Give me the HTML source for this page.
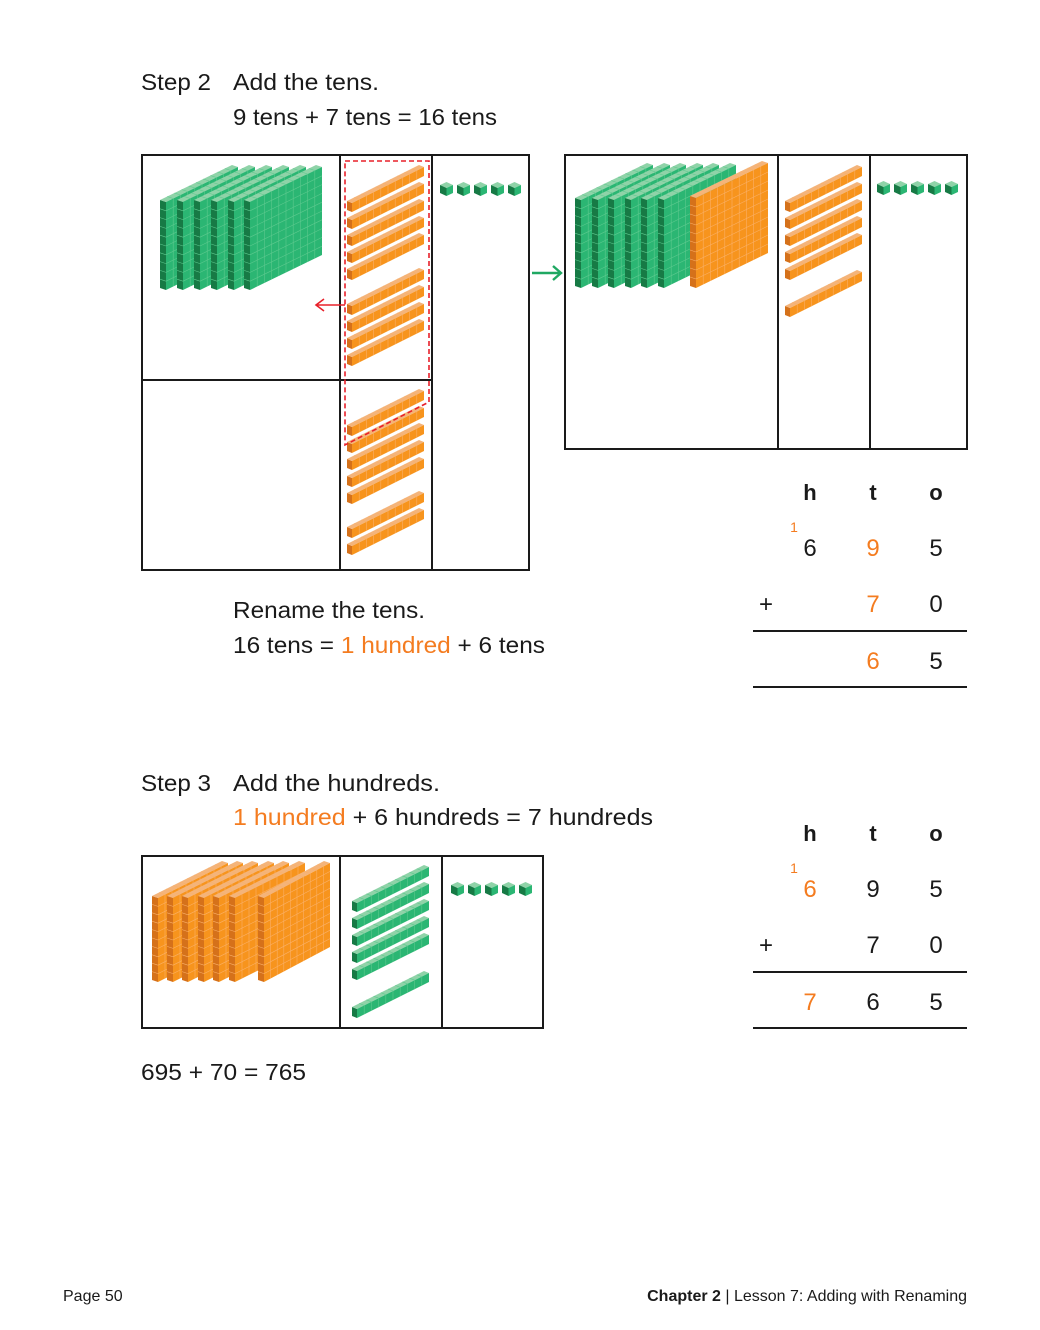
<!DOCTYPE html>
<html><head><meta charset="utf-8"><style>
body{margin:0;background:#fff}
svg{display:block}
text{font-family:"Liberation Sans",sans-serif;fill:#1a1a1a}
.t{font-size:23px}
.o{fill:#f47c20}
.n{font-size:24px;text-anchor:middle}
.h{font-size:22px;font-weight:bold;text-anchor:middle}
</style></head><body>
<svg id="s" width="1040" height="1330" viewBox="0 0 1040 1330" xmlns="http://www.w3.org/2000/svg">
<text class="t" x="141" y="90" textLength="70" lengthAdjust="spacingAndGlyphs">Step 2</text>
<text class="t" x="233" y="90" textLength="146" lengthAdjust="spacingAndGlyphs">Add the tens.</text>
<text class="t" x="233" y="125" textLength="264" lengthAdjust="spacingAndGlyphs">9 tens + 7 tens = 16 tens</text>
<text class="t" x="233" y="618" textLength="192" lengthAdjust="spacingAndGlyphs">Rename the tens.</text>
<text class="t" x="233" y="653" textLength="312" lengthAdjust="spacingAndGlyphs">16 tens = <tspan class="o">1 hundred</tspan> + 6 tens</text>
<text class="t" x="141" y="791" textLength="70" lengthAdjust="spacingAndGlyphs">Step 3</text>
<text class="t" x="233" y="791" textLength="207" lengthAdjust="spacingAndGlyphs">Add the hundreds.</text>
<text class="t" x="233" y="825" textLength="420" lengthAdjust="spacingAndGlyphs"><tspan class="o">1 hundred</tspan> + 6 hundreds = 7 hundreds</text>
<text class="t" x="141" y="1080" textLength="165" lengthAdjust="spacingAndGlyphs">695 + 70 = 765</text>
<text x="63" y="1301" style="font-size:16px">Page 50</text>
<text x="967" y="1301" style="font-size:16px;text-anchor:end"><tspan font-weight="bold">Chapter 2</tspan> | Lesson 7: Adding with Renaming</text>

<g fill="none" stroke="#1a1a1a" stroke-width="2">
<rect x="142" y="155" width="387" height="415"/>
<line x1="340" y1="155" x2="340" y2="570"/><line x1="432" y1="155" x2="432" y2="570"/>
<line x1="142" y1="380" x2="432" y2="380"/>
<rect x="565" y="155" width="402" height="294"/>
<line x1="778" y1="155" x2="778" y2="449"/><line x1="870" y1="155" x2="870" y2="449"/>
<rect x="142" y="856" width="401" height="172"/>
<line x1="340" y1="856" x2="340" y2="1028"/><line x1="442" y1="856" x2="442" y2="1028"/>
<line x1="753" y1="631" x2="967" y2="631" stroke-width="2"/><line x1="753" y1="687" x2="967" y2="687"/>
<line x1="753" y1="972" x2="967" y2="972"/><line x1="753" y1="1028" x2="967" y2="1028"/>
</g>
<g id="blocks"></g>
<g fill="none" stroke-width="1.6">
<path d="M345 161 H429 V402 L345 445 Z" stroke="#e8202a" stroke-dasharray="5,3"/>
<path d="M345 305 H316 M324 299 L316 305 L324 311" stroke="#e8202a"/>
<path d="M532 273 H561 M553 266 L561 273 L553 280" stroke="#1fa862" stroke-width="2.4"/>
</g>

<text class="h" x="810" y="500">h</text><text class="h" x="873" y="500">t</text><text class="h" x="936" y="500">o</text>
<text x="794" y="532" class="o" style="font-size:14px;text-anchor:middle">1</text>
<text class="n" x="810" y="556">6</text><text class="n o" x="873" y="556">9</text><text class="n" x="936" y="556">5</text>
<text class="n" x="766" y="612">+</text><text class="n o" x="873" y="612">7</text><text class="n" x="936" y="612">0</text>
<text class="n o" x="873" y="669">6</text><text class="n" x="936" y="669">5</text>

<text class="h" x="810" y="841">h</text><text class="h" x="873" y="841">t</text><text class="h" x="936" y="841">o</text>
<text x="794" y="873" class="o" style="font-size:14px;text-anchor:middle">1</text>
<text class="n o" x="810" y="897">6</text><text class="n" x="873" y="897">9</text><text class="n" x="936" y="897">5</text>
<text class="n" x="766" y="953">+</text><text class="n" x="873" y="953">7</text><text class="n" x="936" y="953">0</text>
<text class="n o" x="810" y="1010">7</text><text class="n" x="873" y="1010">6</text><text class="n" x="936" y="1010">5</text>
</svg>
<script>
var G={f:"#2bb673",d:"#177a45",t:"#8fd3a8",l:"#5cc98e"},O={f:"#f7941d",d:"#d5711a",t:"#f4b47a",l:"#fab068"};
var out="";
function P(pts,c){out+='<polygon points="'+pts.map(function(p){return p[0].toFixed(1)+','+p[1].toFixed(1)}).join(' ')+'" fill="'+c+'"/>';}
function L(a,b,c){out+='<line x1="'+a[0].toFixed(1)+'" y1="'+a[1].toFixed(1)+'" x2="'+b[0].toFixed(1)+'" y2="'+b[1].toFixed(1)+'" stroke="'+c+'" stroke-width="0.6"/>';}
function blk(x,y,w,r,h,th,C,nx,ny){
 var fx=x+th;
 P([[x,y-2],[x,y-h-2],[fx,y-h],[fx,y]],C.d);
 P([[x,y-h-2],[x+w,y-h-r-2],[fx+w,y-h-r],[fx,y-h]],C.t);
 P([[fx,y],[fx,y-h],[fx+w,y-h-r],[fx+w,y-r]],C.f);
 for(var i=1;i<nx;i++){var k=i/nx;L([fx+w*k,y-r*k],[fx+w*k,y-h-r*k],C.l);L([x+w*k,y-h-2-r*k],[fx+w*k,y-h-r*k],C.l);}
 for(var j=1;j<ny;j++){var m=h*j/ny;L([fx,y-m],[fx+w,y-r-m],C.l);L([x,y-2-m],[fx,y-m],C.l);}
}
function flat(x,y,C,w,h){blk(x,y,w||72,35,h||88,6,C,10,10);}
function rod(x,y,C){blk(x,y,72,36,9,5,C,10,1);}
function cube(x,y,C){
 P([[x+6.5,y],[x+13,y+3],[x+6.5,y+6],[x,y+3]],C.t);
 P([[x,y+3],[x+6.5,y+6],[x+6.5,y+14],[x,y+11]],C.d);
 P([[x+6.5,y+6],[x+13,y+3],[x+13,y+11],[x+6.5,y+14]],C.f);
}
var i;
[160,177,194,211,228,244].forEach(function(x){flat(x,290,G,72,88);});
[212,229,246,263,280,315,332,349,366].forEach(function(y){rod(347,y,O);});
[436,453,470,487,504,538,555].forEach(function(y){rod(347,y,O);});
for(i=0;i<5;i++)cube(440+i*17,182,G);
[575,592,608,625,641,658].forEach(function(x){flat(x,288,G,72,88);});
flat(690,288,O,72,90);
[212,229,246,263,280,317].forEach(function(y){rod(785,y,O);});
for(i=0;i<5;i++)cube(877+i*17,181,G);
[152,167,182,198,213,229].forEach(function(x){flat(x,982,O,70,84);});
flat(258,982,O,66,84);
[912,929,946,963,980,1018].forEach(function(y){rod(352,y,G);});
for(i=0;i<5;i++)cube(451+i*17,882,G);
document.getElementById("blocks").innerHTML=out;
</script>
</body></html>
